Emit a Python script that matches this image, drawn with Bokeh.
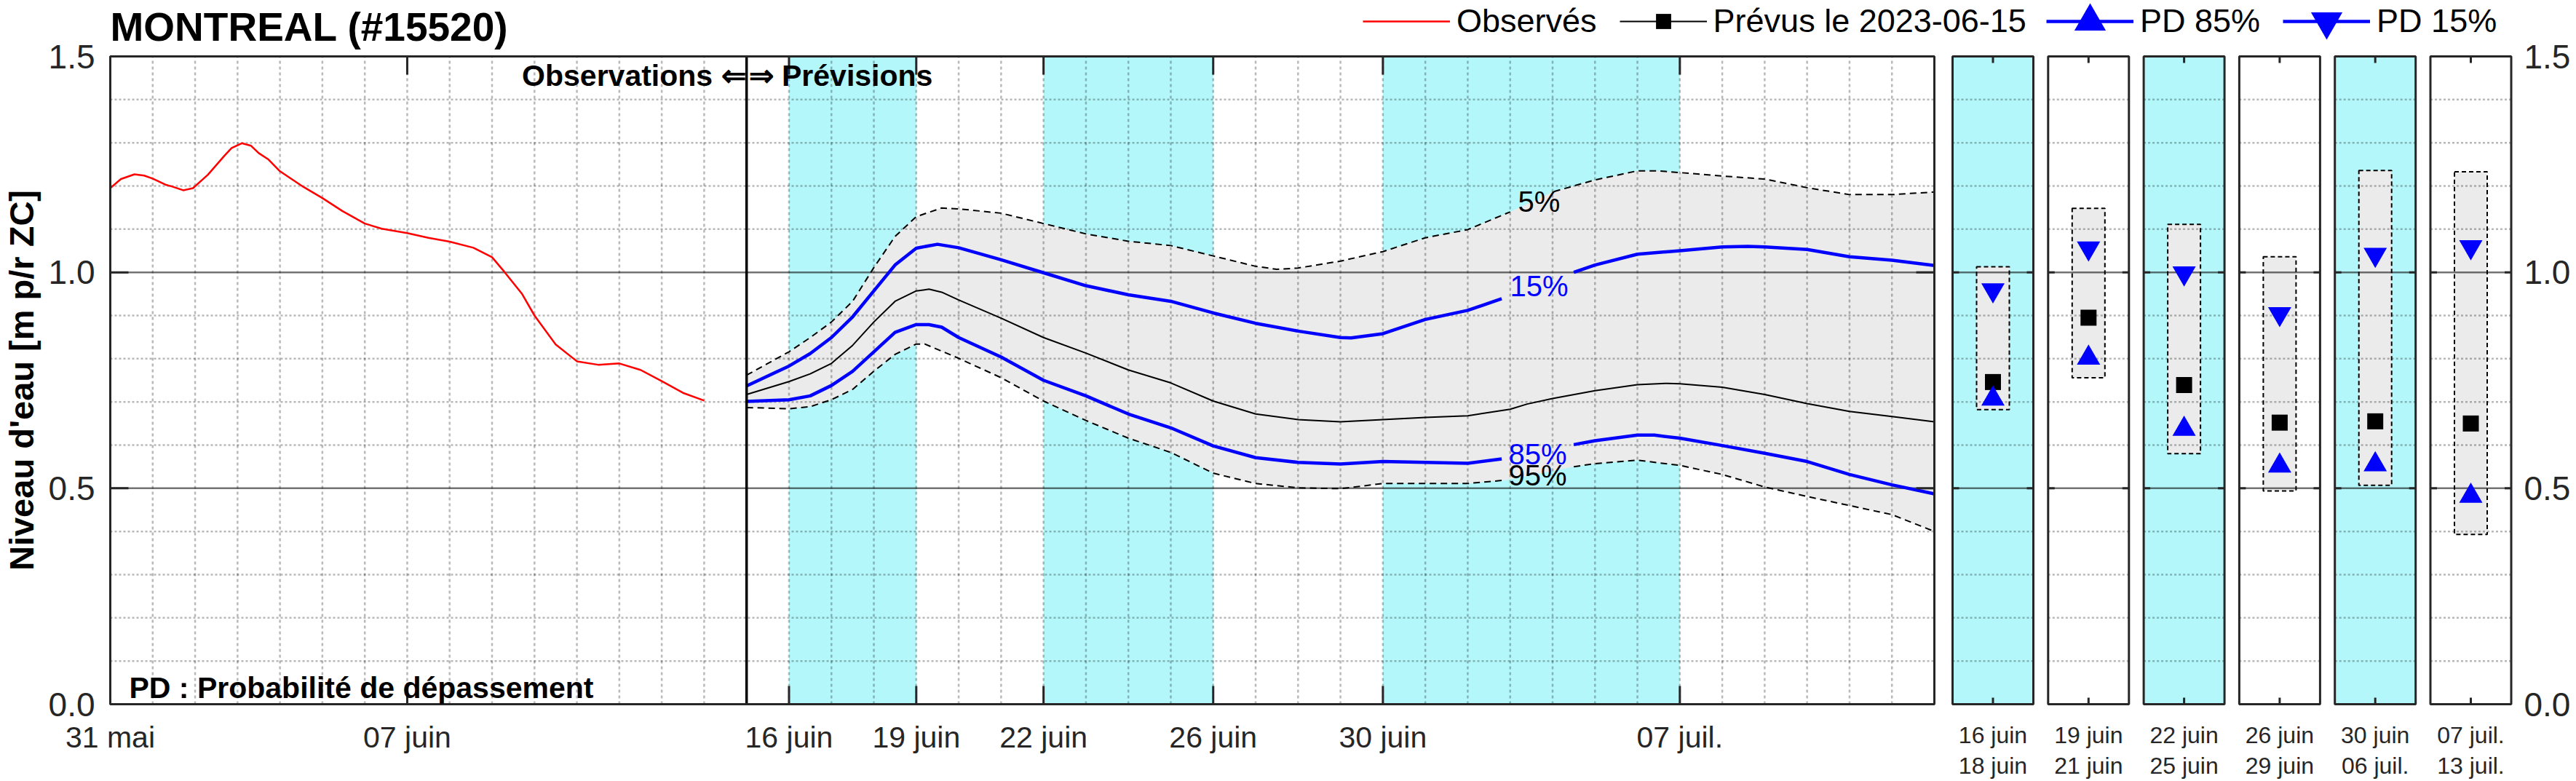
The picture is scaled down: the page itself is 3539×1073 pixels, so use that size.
import math
import numpy as np
import pandas as pd
from bokeh.plotting import figure
from bokeh.models import Range1d, ColumnDataSource, Legend, LegendItem
from bokeh.core.properties import value
from bokeh.embed import file_html
from bokeh.resources import INLINE

# ---------------- data ----------------
STATION = "MONTREAL (#15520)"
BASE_DATE = "2023-05-31"
FORECAST_DATE = "2023-06-15"
END_DATE = "2023-07-13"

# observed water level (days since BASE_DATE, m)
obs_day = [0, 0.25, 0.57, 0.8, 1.0, 1.3, 1.45, 1.72, 1.95, 2.3, 2.7, 2.86, 3.1, 3.32,
           3.5, 3.72, 4.0, 4.55, 5.0, 5.47, 6.0, 6.4, 7.0, 7.5, 8.0, 8.56, 9.0, 9.3,
           9.7, 10.0, 10.5, 11.0, 11.5, 12.0, 12.5, 13.0, 13.5, 14.0]
obs_val = [1.195, 1.216, 1.227, 1.224, 1.217, 1.203, 1.199, 1.190, 1.195, 1.226, 1.271,
           1.288, 1.299, 1.293, 1.276, 1.262, 1.234, 1.198, 1.172, 1.142, 1.113, 1.101,
           1.091, 1.080, 1.071, 1.057, 1.035, 1.000, 0.951, 0.900, 0.833, 0.794, 0.786,
           0.789, 0.774, 0.748, 0.721, 0.703]

# forecast percentiles (exceedance probability)
p05_day = [15, 16, 16.5, 17, 17.5, 18, 18.5, 19, 19.6, 20, 21, 22, 23, 24, 25, 26, 27,
           27.5, 28, 29, 30, 31, 32, 33, 34.03, 35, 36, 36.5, 37, 38, 39, 40, 41, 42, 43]
p05_val = [0.762, 0.816, 0.849, 0.885, 0.933, 1.011, 1.083, 1.129, 1.149, 1.147, 1.137,
           1.113, 1.089, 1.072, 1.062, 1.038, 1.014, 1.007, 1.010, 1.026, 1.048, 1.080,
           1.099, 1.140, 1.187, 1.214, 1.235, 1.235, 1.231, 1.223, 1.216, 1.196, 1.180,
           1.180, 1.186]
p15_day = [15, 16, 16.5, 17, 17.5, 18, 18.5, 19, 19.5, 20, 21, 22, 23, 24, 25, 26, 27,
           28, 29, 29.25, 30, 31, 32, 32.8, 34.5, 35, 36, 37, 38, 38.6, 39, 40, 41, 42, 43]
p15_val = [0.737, 0.783, 0.812, 0.849, 0.897, 0.957, 1.017, 1.056, 1.065, 1.057, 1.029,
           0.999, 0.969, 0.948, 0.933, 0.906, 0.882, 0.864, 0.849, 0.848, 0.858, 0.891,
           0.912, 0.939, 1.000, 1.017, 1.042, 1.050, 1.059, 1.060, 1.059, 1.053, 1.036,
           1.028, 1.016]
med_day = [15, 16, 16.5, 17, 17.5, 18, 18.5, 19, 19.3, 19.6, 20, 21, 22, 23, 24, 25, 26,
           27, 28, 29, 30, 31, 32, 33, 33.4, 34, 35, 36, 36.7, 37, 38, 39, 40, 41, 42, 43]
med_val = [0.717, 0.747, 0.765, 0.789, 0.831, 0.885, 0.933, 0.957, 0.961, 0.954, 0.936,
           0.894, 0.849, 0.813, 0.774, 0.744, 0.702, 0.672, 0.659, 0.654, 0.659, 0.664,
           0.668, 0.683, 0.695, 0.708, 0.726, 0.740, 0.743, 0.742, 0.734, 0.717, 0.696,
           0.678, 0.666, 0.654]
p85_day = [15, 16, 16.5, 17, 17.5, 18, 18.5, 19, 19.3, 19.6, 20, 21, 22, 23, 24, 25, 26,
           27, 28, 29, 30, 31, 32, 32.8, 34.5, 35, 36, 36.4, 37, 38, 39, 40, 41, 42, 43]
p85_val = [0.701, 0.705, 0.714, 0.738, 0.771, 0.816, 0.861, 0.879, 0.879, 0.873, 0.849,
           0.804, 0.750, 0.714, 0.672, 0.640, 0.598, 0.571, 0.560, 0.556, 0.562, 0.560,
           0.558, 0.568, 0.601, 0.610, 0.623, 0.623, 0.616, 0.599, 0.581, 0.562, 0.532,
           0.508, 0.487]
p95_day = [15, 16, 16.5, 17, 17.5, 18, 18.5, 19, 19.2, 20, 21, 22, 23, 24, 25, 26, 27,
           28, 29, 30, 31, 32, 32.9, 34.5, 35, 36, 37, 38, 39, 40, 41, 42, 43]
p95_val = [0.687, 0.684, 0.689, 0.705, 0.729, 0.771, 0.810, 0.834, 0.834, 0.801, 0.756,
           0.702, 0.657, 0.616, 0.583, 0.535, 0.511, 0.501, 0.499, 0.511, 0.511, 0.511,
           0.519, 0.550, 0.557, 0.565, 0.553, 0.532, 0.503, 0.481, 0.460, 0.439, 0.400]

# main x-axis ticks
tick_dates = ["2023-05-31", "2023-06-07", "2023-06-16", "2023-06-19", "2023-06-22",
              "2023-06-26", "2023-06-30", "2023-07-07"]
tick_labels = ["31 mai", "07 juin", "16 juin", "19 juin", "22 juin", "26 juin",
               "30 juin", "07 juil."]

# periods (small panels)
per_start = ["2023-06-16", "2023-06-19", "2023-06-22", "2023-06-26", "2023-06-30", "2023-07-07"]
per_end = ["2023-06-18", "2023-06-21", "2023-06-25", "2023-06-29", "2023-07-06", "2023-07-13"]
per_label_start = ["16 juin", "19 juin", "22 juin", "26 juin", "30 juin", "07 juil."]
per_label_end = ["18 juin", "21 juin", "25 juin", "29 juin", "06 juil.", "13 juil."]
per_shaded = [True, False, True, False, True, False]
per_p05 = [1.013, 1.148, 1.111, 1.036, 1.236, 1.233]
per_p15 = [0.959, 1.056, 0.998, 0.904, 1.041, 1.059]
per_med = [0.746, 0.895, 0.739, 0.652, 0.655, 0.650]
per_p85 = [0.707, 0.802, 0.637, 0.552, 0.555, 0.482]
per_p95 = [0.682, 0.756, 0.580, 0.494, 0.507, 0.393]

y_ticks = [0.0, 0.5, 1.0, 1.5]
y_minor = [0.1, 0.2, 0.3, 0.4, 0.6, 0.7, 0.8, 0.9, 1.1, 1.2, 1.3, 1.4]

# ---------------- styles / layout (page pixels) ----------------
FONT = "Liberation Sans"
AX = "#262626"
CYAN = "#b3f7fa"
GRAY = "#ebebeb"
BLUE = "#0000ff"

PAGE = 0   # bokeh's standalone template has no body margin
CANVAS_W, CANVAS_H = 3539 - 2 * PAGE, 1073 - 2 * PAGE
MAIN_L, MAIN_R = 151, 2657          # page x of first / last day
Y_TOP, Y_BOT = 77, 967               # page y of 1.5 / 0.0
PANEL_C0, PANEL_PITCH, PANEL_HALF = 2737.5, 131.3, 55.5
BOX_HALF = 22.5


def day_of(d):
    return (pd.Timestamp(d) - pd.Timestamp(BASE_DATE)).days


n_days = day_of(END_DATE)
fc_day = day_of(FORECAST_DATE)
tick_days = [day_of(d) for d in tick_dates]
ps_day = [day_of(d) for d in per_start]
pe_day = [day_of(d) + 1 for d in per_end]
kk = list(range(len(per_start)))

YMAX = y_ticks[-1]
ppd = (MAIN_R - MAIN_L) / n_days
ppu = (Y_BOT - Y_TOP) / YMAX


def tx(px):  # page x -> day
    return (px - MAIN_L) / ppd


def ty(py):  # page y -> metres
    return (Y_BOT - py) / ppu


p = figure(frame_width=CANVAS_W, frame_height=CANVAS_H,
           x_range=Range1d(tx(PAGE), tx(PAGE + CANVAS_W)),
           y_range=Range1d(ty(PAGE + CANVAS_H), ty(PAGE)),
           x_axis_type=None, y_axis_type=None,
           min_border=0, min_border_left=0, min_border_right=0,
           min_border_top=0, min_border_bottom=0,
           output_backend="svg", toolbar_location=None, title=None)
p.outline_line_color = None
p.background_fill_color = "white"
p.border_fill_color = "white"

pan0 = (PAGE - PANEL_C0) / PANEL_PITCH
p.extra_x_ranges = {"panels": Range1d(pan0, pan0 + CANVAS_W / PANEL_PITCH)}
ph = PANEL_HALF / PANEL_PITCH
bh = BOX_HALF / PANEL_PITCH

# ---- backgrounds ----
sh = [i for i in kk if per_shaded[i]]
p.quad(left=[ps_day[i] for i in sh], right=[pe_day[i] for i in sh],
       bottom=0, top=YMAX, fill_color=CYAN, line_color=None)
p.quad(left=[i - ph for i in sh], right=[i + ph for i in sh], bottom=0, top=YMAX,
       fill_color=CYAN, line_color=None, x_range_name="panels")
p.patch(x=p05_day + p95_day[::-1], y=p05_val + p95_val[::-1],
        fill_color=GRAY, line_color=None)
p.quad(left=[i - bh for i in kk], right=[i + bh for i in kk], bottom=per_p95, top=per_p05,
       fill_color=GRAY, line_color=None, x_range_name="panels")

# ---- grid lines ----
GRID_KW = dict(line_color="black", line_alpha=0.28, line_width=2.5)
p.segment(x0=0, x1=n_days, y0=y_minor, y1=y_minor, line_dash="3 3", **GRID_KW)
days_all = [d for d in range(1, n_days) if d != fc_day]
p.segment(x0=days_all, x1=days_all, y0=0, y1=YMAX, line_dash="4 4", **GRID_KW)
gx0 = [i - ph for i in kk for _ in y_minor]
gx1 = [i + ph for i in kk for _ in y_minor]
gy = [g for _ in kk for g in y_minor]
p.segment(x0=gx0, x1=gx1, y0=gy, y1=gy, line_dash="3 3", x_range_name="panels", **GRID_KW)
y_major_in = [v for v in y_ticks if 0 < v < YMAX]
MAJ_KW = dict(line_color="black", line_alpha=0.55, line_width=2.5)
p.segment(x0=0, x1=n_days, y0=y_major_in, y1=y_major_in, **MAJ_KW)
p.segment(x0=[i - ph for i in kk for _ in y_major_in], x1=[i + ph for i in kk for _ in y_major_in],
          y0=[g for _ in kk for g in y_major_in], y1=[g for _ in kk for g in y_major_in],
          x_range_name="panels", **MAJ_KW)

# panel boxes outline (dashed)
p.quad(left=[i - bh for i in kk], right=[i + bh for i in kk], bottom=per_p95, top=per_p05,
       fill_color=None, line_color="black", line_width=2, line_dash="6 4",
       x_range_name="panels")


def with_gap(days, vals, gap_day=33.5):
    xs, ys = [], []
    for i, (d, v) in enumerate(zip(days, vals)):
        if i > 0 and days[i - 1] < gap_day < d:
            xs.append(np.nan)
            ys.append(np.nan)
        xs.append(d)
        ys.append(v)
    return xs, ys


# ---- curves ----
r_obs = p.line(obs_day, obs_val, line_color="red", line_width=2.5, line_join="round")
x5, y5 = with_gap(p05_day, p05_val)
p.line(x5, y5, line_color="black", line_width=2, line_dash="9 6")
x95, y95 = with_gap(p95_day, p95_val)
p.line(x95, y95, line_color="black", line_width=2, line_dash="9 6")
r_med = p.line(med_day, med_val, line_color="black", line_width=2, line_join="round")
x15, y15 = with_gap(p15_day, p15_val)
r_15 = p.line(x15, y15, line_color=BLUE, line_width=4.5, line_join="round")
x85, y85 = with_gap(p85_day, p85_val)
r_85 = p.line(x85, y85, line_color=BLUE, line_width=4.5, line_join="round")

# divider obs / forecast
p.segment(x0=fc_day, x1=fc_day, y0=0, y1=YMAX, line_color="black", line_width=3.5)

# ---- boxes ----
p.quad(left=0, right=n_days, bottom=0, top=YMAX, fill_color=None, line_color=AX, line_width=3)
p.quad(left=[i - ph for i in kk], right=[i + ph for i in kk], bottom=0, top=YMAX,
       fill_color=None, line_color=AX, line_width=3, x_range_name="panels")

# ---- tick marks ----
TK = dict(line_color=AX, line_width=3)
tl_main_y = 25 / ppu
tl_main_x = 25 / ppd
p.segment(x0=tick_days, x1=tick_days, y0=0, y1=tl_main_y, **TK)
p.segment(x0=tick_days, x1=tick_days, y0=YMAX, y1=YMAX - tl_main_y, **TK)
p.segment(x0=0, x1=tl_main_x, y0=y_major_in, y1=y_major_in, **TK)
p.segment(x0=n_days, x1=n_days - tl_main_x, y0=y_major_in, y1=y_major_in, **TK)
tl_p_y = 9 / ppu
tl_p_x = 9 / PANEL_PITCH
p.segment(x0=kk, x1=kk, y0=0, y1=tl_p_y, x_range_name="panels", **TK)
p.segment(x0=kk, x1=kk, y0=YMAX, y1=YMAX - tl_p_y, x_range_name="panels", **TK)
lx = [i - ph for i in kk for _ in y_major_in] + [i + ph for i in kk for _ in y_major_in]
lx1 = [i - ph + tl_p_x for i in kk for _ in y_major_in] + [i + ph - tl_p_x for i in kk for _ in y_major_in]
ly = [g for _ in kk for g in y_major_in] * 2
p.segment(x0=lx, x1=lx1, y0=ly, y1=ly, x_range_name="panels", **TK)

# ---- panel markers ----
r_sq = p.scatter(kk, per_med, marker="square", size=22, fill_color="black", line_color=None,
                 x_range_name="panels")
r_up = p.scatter(kk, per_p85, marker="triangle", size=32, fill_color=BLUE, line_color=None,
                 x_range_name="panels")
r_dn = p.scatter(kk, per_p15, marker="inverted_triangle", size=32, fill_color=BLUE,
                 line_color=None, x_range_name="panels")

# ---- texts (y = visual centre of capitals, baseline "middle") ----
TXT = dict(text_font=value(FONT), text_baseline="middle")
# tick labels
p.text(x=tick_days, y=ty(1012), text=tick_labels, text_align="center",
       text_font_size="41px", text_color=AX, **TXT)
y_tick_txt = ["%.1f" % v for v in y_ticks]
p.text(x=tx(130), y=y_ticks, text=y_tick_txt, text_align="right",
       text_font_size="46px", text_color=AX, **TXT)
p.text(x=tx(3467), y=y_ticks, text=y_tick_txt, text_align="left",
       text_font_size="46px", text_color=AX, **TXT)
# panel period labels
p.text(x=kk, y=ty(1009), text=per_label_start, text_align="center",
       text_font_size="32px", text_color=AX, x_range_name="panels", **TXT)
p.text(x=kk, y=ty(1051), text=per_label_end, text_align="center",
       text_font_size="32px", text_color=AX, x_range_name="panels", **TXT)
# annotations in plot
p.text(x=[fc_day - 0.02], y=[ty(103)], text=["Observations \u21d0"], text_align="right",
       text_font_size="41px", text_font_style="bold", text_color="black", **TXT)
p.text(x=[fc_day + 0.05], y=[ty(103)], text=["\u21d2 Prévisions"], text_align="left",
       text_font_size="41px", text_font_style="bold", text_color="black", **TXT)
p.text(x=[tx(177)], y=[ty(944)], text=["PD : Probabilité de dépassement"], text_align="left",
       text_font_size="41px", text_font_style="bold", text_color="black", **TXT)
pct_src = ColumnDataSource(dict(
    x=[tx(2085), tx(2074), tx(2072), tx(2072)],
    y=[ty(276), ty(392), ty(623), ty(652)],
    text=["5%", "15%", "85%", "95%"],
    color=["black", BLUE, BLUE, "black"]))
p.text(x="x", y="y", text="text", text_color="color", source=pct_src, text_align="left",
       text_font_size="40px", **TXT)
# title and y label
p.text(x=[tx(151)], y=[ty(36)], text=[STATION], text_align="left",
       text_font_size="55px", text_font_style="bold", text_color="black", **TXT)
p.text(x=[tx(29)], y=[ty(522)], text=["Niveau d'eau [m p/r ZC]"], angle=math.pi / 2,
       text_align="center", text_font_size="47px", text_font_style="bold",
       text_color="black", **TXT)

# ---- legends (two groups: small square marker, large triangle markers) ----
LEG_KW = dict(orientation="horizontal", label_standoff=9, spacing=31, padding=0, margin=0,
              border_line_color=None, background_fill_alpha=0, glyph_width=120,
              label_text_font=FONT, label_text_font_size="45px", label_text_color="black")
LEG_Y = 29
LEG_H1, LEG_H2 = 52, 108
leg1 = Legend(items=[
    LegendItem(label="Observés", renderers=[r_obs]),
    LegendItem(label="Prévus le " + FORECAST_DATE, renderers=[r_med, r_sq]),
], location=(1872 - PAGE, (PAGE + CANVAS_H) - (LEG_Y + LEG_H1 / 2)),
    glyph_height=LEG_H1, label_height=LEG_H1, **LEG_KW)
leg2 = Legend(items=[
    LegendItem(label="PD 85%", renderers=[r_85, r_up]),
    LegendItem(label="PD 15%", renderers=[r_15, r_dn]),
], location=(2811 - PAGE, (PAGE + CANVAS_H) - (LEG_Y + LEG_H2 / 2)),
    glyph_height=LEG_H2, label_height=LEG_H2, **LEG_KW)
p.add_layout(leg1)
p.add_layout(leg2)

open("out.html", "w").write(file_html(p, INLINE))
